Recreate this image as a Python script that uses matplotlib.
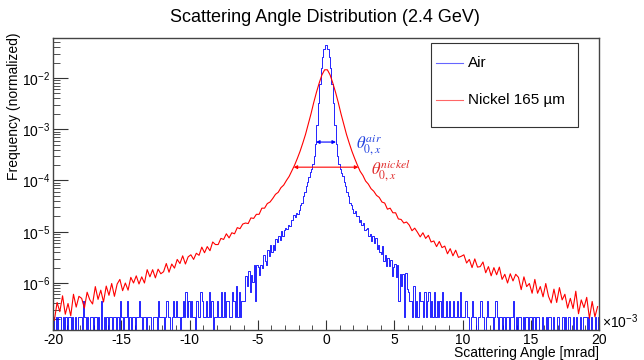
import numpy as np
import matplotlib
matplotlib.use('Agg')
import matplotlib.pyplot as plt
from matplotlib.patches import Rectangle
from matplotlib.ticker import LogLocator, MultipleLocator, NullFormatter

plt.rcParams['font.family'] = ['Liberation Sans', 'DejaVu Sans']
plt.rcParams['axes.unicode_minus'] = False

# Nickel 165 um, log10(frequency), 0.2 mrad bins from -20 to 0 and 0 to 20
NICKEL_LOG_LEFT = [
    -6.73, -6.38, -6.56, -6.25, -6.61, -6.40, -6.64, -6.22, -6.47, -6.26,
    -6.30, -6.49, -6.18, -6.33, -6.41, -6.07, -6.32, -6.14, -6.37, -6.06,
    -6.24, -6.01, -6.26, -6.02, -5.93, -6.15, -6.00, -6.14, -5.89, -6.00,
    -5.86, -6.02, -5.88, -6.00, -5.74, -5.88, -5.74, -5.90, -5.73, -5.82,
    -5.78, -5.62, -5.79, -5.63, -5.71, -5.54, -5.62, -5.47, -5.63, -5.49,
    -5.45, -5.54, -5.42, -5.46, -5.30, -5.41, -5.29, -5.37, -5.20, -5.25,
    -5.25, -5.13, -5.15, -5.04, -5.12, -5.02, -5.04, -4.92, -4.94, -4.85,
    -4.83, -4.84, -4.73, -4.74, -4.66, -4.66, -4.54, -4.54, -4.45, -4.42,
    -4.35, -4.27, -4.23, -4.14, -4.09, -4.00, -3.92, -3.81, -3.70, -3.57,
    -3.43, -3.27, -3.10, -2.90, -2.70, -2.48, -2.28, -2.10, -1.94, -1.84,
]
NICKEL_LOG_RIGHT = [
    -1.84, -1.94, -2.10, -2.28, -2.48, -2.70, -2.90, -3.10, -3.27, -3.43,
    -3.57, -3.70, -3.82, -3.90, -4.01, -4.07, -4.16, -4.21, -4.29, -4.33,
    -4.42, -4.44, -4.56, -4.54, -4.63, -4.63, -4.75, -4.76, -4.83, -4.81,
    -4.87, -4.98, -4.93, -5.01, -5.10, -5.02, -5.13, -5.07, -5.20, -5.18,
    -5.29, -5.19, -5.31, -5.28, -5.43, -5.33, -5.47, -5.36, -5.50, -5.48,
    -5.45, -5.61, -5.54, -5.70, -5.53, -5.69, -5.68, -5.59, -5.80, -5.68,
    -5.86, -5.70, -5.84, -5.69, -5.93, -5.83, -6.00, -5.82, -5.96, -5.83,
    -5.89, -6.13, -5.88, -6.07, -6.01, -6.20, -5.93, -6.20, -6.07, -6.27,
    -6.01, -6.26, -6.39, -6.12, -6.38, -6.09, -6.33, -6.22, -6.49, -6.30,
    -6.50, -6.16, -6.60, -6.33, -6.48, -6.28, -6.69, -6.36, -6.66, -6.46,
]

# Air, 0.1 mrad bins: counts in the tails (|x| > 6), log10(frequency) in the core
AIR_TAIL_LEFT = ("1010110101" "0110101011" "1021010110" "1101020101"
                 "0110110102" "1011201011" "0112101101" "1101110211"
                 "1012110121" "2110121312" "1211021132" "1121312011"
                 "2113131221" "1321413122")
AIR_LOG_LEFT = [
    -6.36, -5.87, -6.05, -5.77, -6.18, -5.84, -5.99, -5.65, -6.36, -5.65,
    -5.69, -5.85, -5.64, -5.71, -5.45, -5.58, -5.64, -5.36, -5.47, -5.26,
    -5.40, -5.26, -5.35, -5.14, -5.20, -5.09, -5.17, -4.98, -5.08, -4.97,
    -4.92, -4.95, -4.87, -4.89, -4.77, -4.78, -4.67, -4.72, -4.63, -4.65,
    -4.57, -4.48, -4.44, -4.31, -4.23, -4.11, -4.03, -3.93, -3.84, -3.77,
    -3.68, -3.52, -3.28, -2.92, -2.49, -2.11, -1.81, -1.59, -1.43, -1.36,
]
AIR_LOG_RIGHT = [
    -1.36, -1.43, -1.59, -1.81, -2.11, -2.49, -2.92, -3.28, -3.52, -3.68,
    -3.77, -3.85, -3.92, -4.03, -4.11, -4.23, -4.31, -4.43, -4.48, -4.56,
    -4.63, -4.60, -4.69, -4.70, -4.81, -4.77, -4.86, -4.83, -4.96, -4.95,
    -4.92, -5.08, -5.05, -5.19, -5.09, -5.21, -5.13, -5.33, -5.26, -5.39,
    -5.43, -5.27, -5.57, -5.46, -5.67, -5.51, -5.66, -5.56, -5.86, -5.69,
    -5.63, -5.88, -5.65, -6.36, -5.82, -6.06, -5.83, -6.66, -5.81, -6.11,
]
AIR_TAIL_RIGHT = ("3221412132" "2131231213" "1212131121" "2112112131"
                  "1121101211" "0112110121" "1101210110" "1011011201"
                  "0110101101" "1010110010" "0101101001" "1001010110"
                  "0101001011" "1010100101")

ONE_COUNT = 2.2e-7      # normalized height of a single entry
AIR_THETA = 0.73        # mrad, half width marked for air
AIR_LEVEL = 10 ** -3.25
NICKEL_THETA = 2.37     # mrad, half width marked for nickel
NICKEL_LEVEL = 10 ** -3.74

LABELS = ['Air', 'Nickel 165 \u00b5m']
COLORS = ['#0000ff', '#ff0000']


def counts(s):
    c = np.array([int(ch) for ch in s], dtype=float)
    return np.where(c > 0, c * ONE_COUNT, 1e-9)


def main():
    air = np.concatenate([counts(AIR_TAIL_LEFT), 10 ** np.array(AIR_LOG_LEFT),
                          10 ** np.array(AIR_LOG_RIGHT), counts(AIR_TAIL_RIGHT)])
    nickel = 10 ** np.array(NICKEL_LOG_LEFT + NICKEL_LOG_RIGHT)
    air_edges = np.linspace(-20, 20, len(air) + 1)
    ni_edges = np.linspace(-20, 20, len(nickel) + 1)
    ni_centers = 0.5 * (ni_edges[:-1] + ni_edges[1:])

    fig = plt.figure(figsize=(6.44, 3.6), dpi=100)
    ax = fig.add_axes([53 / 644, 1 - 330 / 360, 546 / 644, 292 / 360])

    ax.plot(air_edges, np.append(air, air[-1]), drawstyle='steps-post',
            color=COLORS[0], lw=0.6)
    ax.plot(ni_centers, nickel, color=COLORS[1], lw=0.8)

    ax.set_yscale('log')
    ax.set_xlim(-20, 20)
    ax.set_ylim(1.21e-7, 0.0603)

    ax.xaxis.set_major_locator(MultipleLocator(5))
    ax.xaxis.set_minor_locator(MultipleLocator(1))
    ax.yaxis.set_major_locator(LogLocator(base=10, numticks=20))
    ax.yaxis.set_minor_locator(LogLocator(base=10, subs=np.arange(2, 10), numticks=20))
    ax.yaxis.set_minor_formatter(NullFormatter())
    ax.tick_params(which='both', direction='in', top=False, right=False, color='#333333')
    ax.tick_params(axis='y', which='major', length=10.8, width=0.8, labelsize=10, pad=2)
    ax.tick_params(axis='y', which='minor', length=5, width=0.6)
    ax.tick_params(axis='x', which='major', length=7, width=0.8, labelsize=10, pad=2)
    ax.tick_params(axis='x', which='minor', length=3.6, width=0.6)
    for sp in ax.spines.values():
        sp.set_color('#444444')
        sp.set_linewidth(1.0)

    ax.set_xlabel('Scattering Angle [mrad]', fontsize=10, loc='right')
    ax.xaxis.set_label_coords(1.0, -0.056)
    ax.set_ylabel('Frequency (normalized)', fontsize=10, loc='top')
    ax.yaxis.set_label_coords(-0.058, 1.02)

    fig.text(325 / 644, 1 - 18 / 360, 'Scattering Angle Distribution (2.4 GeV)',
             fontsize=13, ha='center', va='center')
    fig.text(602 / 644, 1 - 322 / 360, r'$\mathdefault{\times10^{-3}}$',
             fontsize=10, ha='left', va='center')

    # width markers
    ax.annotate('', xy=(AIR_THETA, AIR_LEVEL), xytext=(-AIR_THETA, AIR_LEVEL),
                arrowprops=dict(arrowstyle='<|-|>', color=COLORS[0], lw=0.8,
                                mutation_scale=5, shrinkA=0, shrinkB=0))
    ax.annotate('', xy=(NICKEL_THETA, NICKEL_LEVEL), xytext=(-NICKEL_THETA, NICKEL_LEVEL),
                arrowprops=dict(arrowstyle='<|-|>', color=COLORS[1], lw=0.8,
                                mutation_scale=5, shrinkA=0, shrinkB=0))
    ax.text(2.2, 10 ** -3.31, r'$\theta_{0,x}^{air}$', color='#2040e0', fontsize=12,
            math_fontfamily='stix', ha='left', va='center')
    ax.text(3.3, 10 ** -3.80, r'$\theta_{0,x}^{nickel}$', color='#e02828', fontsize=12,
            math_fontfamily='stix', ha='left', va='center')

    # legend box, drawn by hand to sit where the original one is
    ax.add_patch(Rectangle((0.692, 0.695), 0.270, 0.288, transform=ax.transAxes,
                           fc='white', ec='#333333', lw=0.8, zorder=5))
    for lab, col, yy in zip(LABELS, COLORS, [0.915, 0.788]):
        ax.plot([0.701, 0.751], [yy, yy], transform=ax.transAxes, color=col,
                lw=0.8, alpha=0.6, zorder=6)
        ax.text(0.760, yy, lab, transform=ax.transAxes, fontsize=11,
                va='center', ha='left', zorder=6)

    fig.savefig('out.png', dpi=100)


if __name__ == '__main__':
    main()
